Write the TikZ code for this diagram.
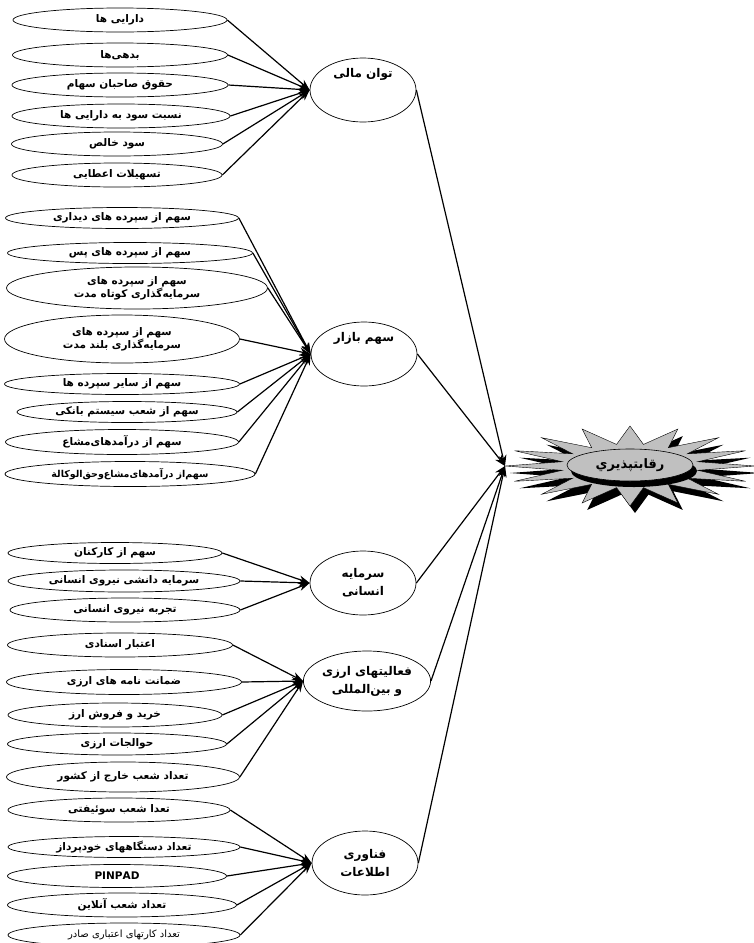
\documentclass[tikz,border=0pt]{standalone}
\usepackage{fontspec}
\newfontfamily\fa[Script=Arabic]{DejaVu Sans}
\TeXXeTstate=1
\usetikzlibrary{shapes.geometric,arrows.meta}
\definecolor{silver}{RGB}{192,192,192}
\newcommand{\fatext}[1]{\beginR #1\endR}
\tikzset{
    item/.style={ellipse, draw, line width=0.7pt, inner sep=0pt, minimum height=24,
        align=center, font=\fa\bfseries\fontsize{10.5}{13}\selectfont},
    factor/.style={item, minimum width=106, minimum height=64,
        font=\fa\bfseries\fontsize{12}{18}\selectfont},
    arr/.style={line width=1.2pt, -{Stealth[length=11pt,width=8pt]}},
}
\begin{document}
\begin{tikzpicture}[x=1pt,y=-1pt]
        \useasboundingbox (0,0) rectangle (753,943);

        % financial power
        \node[item, minimum width=214] (a1) at (120,20) {\fatext{دارایی ها}};
        \node[item, minimum width=215] (a2) at (120,55) {\fatext{بدهی‌ها}};
        \node[item, minimum width=216] (a3) at (120,85) {\fatext{حقوق صاحبان سهام}};
        \node[item, minimum width=218] (a4) at (121,116) {\fatext{نسبت سود به دارایی ها}};
        \node[item, minimum width=211] (a5) at (117,144) {\fatext{سود خالص}};
        \node[item, minimum width=210] (a6) at (117,175) {\fatext{تسهیلات اعطایی}};
        \node[factor] (tm) at (363,90) {\fatext{توان مالی}\\[16pt]};
        \foreach \i in {1,...,6} {\draw[arr] (a\i.east) -- (tm.west);}

        % market share
        \node[item, minimum width=233, minimum height=21] (b1) at (122,218) {\fatext{سهم از سپرده های دیداری}};
        \node[item, minimum width=245, minimum height=21] (b2) at (130,253) {\fatext{سهم از سپرده های پس}};
        \node[item, minimum width=261, minimum height=42] (b3) at (137,288)
            {\fatext{سهم از سپرده های}\\\fatext{سرمایه‌گذاری کوتاه مدت}};
        \node[item, minimum width=235, minimum height=48] (b4) at (122,339)
            {\fatext{سهم از سپرده های}\\\fatext{سرمایه‌گذاری بلند مدت}};
        \node[item, minimum width=235, minimum height=21] (b5) at (122,384) {\fatext{سهم از سایر سپرده ها}};
        \node[item, minimum width=220, minimum height=21] (b6) at (127,412) {\fatext{سهم از شعب سیستم بانکی}};
        \node[item, minimum width=233, minimum height=25] (b7) at (122,442) {\fatext{سهم از درآمدهای‌مشاع}};
        \node[item, minimum width=250, minimum height=25, font=\fa\bfseries\fontsize{9.5}{12}\selectfont] (b8) at (130,474)
            {\fatext{سهم‌از درآمدهای‌مشاع‌وحق‌الوکالة}};
        \node[factor] (sb) at (364,354) {\fatext{سهم بازار}\\[16pt]};
        \foreach \i in {1,...,8} {\draw[arr] (b\i.east) -- (sb.west);}

        % human capital
        \node[item, minimum width=214, minimum height=21] (c1) at (115,553) {\fatext{سهم از کارکنان}};
        \node[item, minimum width=232, minimum height=22] (c2) at (124,581) {\fatext{سرمایه دانشی نیروی انسانی}};
        \node[item, minimum width=230, minimum height=24] (c3) at (125,610) {\fatext{تجربه نیروی انسانی}};
        \node[factor] (si) at (363,583) {\fatext{سرمایه}\\\fatext{انسانی}};
        \foreach \i in {1,2,3} {\draw[arr] (c\i.east) -- (si.west);}

        % foreign exchange
        \node[item, minimum width=225] (d1) at (120,645) {\fatext{اعتبار اسنادی}};
        \node[item, minimum width=235, minimum height=25] (d2) at (124,682) {\fatext{ضمانت نامه های ارزی}};
        \node[item, minimum width=214] (d3) at (115,715) {\fatext{خرید و فروش ارز}};
        \node[item, minimum width=219, minimum height=22] (d4) at (117,744) {\fatext{حوالجات ارزی}};
        \node[item, minimum width=233, minimum height=30] (d5) at (123,777) {\fatext{تعداد شعب خارج از کشور}};
        \node[factor, minimum width=120, minimum height=60] (fa) at (367,681)
            {\fatext{فعالیتهای ارزی}\\\fatext{و بین‌المللی}};
        \foreach \i in {1,...,5} {\draw[arr] (d\i.east) -- (fa.west);}

        % information technology
        \node[item, minimum width=222] (e1) at (119,810) {\fatext{تعدا شعب سوئیفتی}};
        \node[item, minimum width=232, minimum height=21] (e2) at (124,847) {\fatext{تعداد دستگاههای خودپرداز}};
        \node[item, minimum width=219, minimum height=23] (e3) at (117,876) {PINPAD};
        \node[item, minimum width=229] (e4) at (122,905) {\fatext{تعداد شعب آنلاین}};
        \node[item, minimum width=232, font=\fa\fontsize{10}{12}\selectfont] (e5) at (124,935)
            {\fatext{تعداد کارتهای اعتباری صادر}};
        \node[factor] (it) at (365,863) {\fatext{فناوری}\\\fatext{اطلاعات}};
        \foreach \i in {1,...,5} {\draw[arr] (e\i.east) -- (it.west);}

        % competitiveness
        \fill[black] plot[samples at={0,...,31}, variable=\k]
            ({635+(97+28*cos(180*\k))*cos(11.25*\k)}, {473+(31+9*cos(180*\k))*sin(11.25*\k)}) -- cycle;
        \filldraw[fill=silver, line width=0.4pt] plot[samples at={0,...,31}, variable=\k]
            ({630+(97+28*cos(180*\k))*cos(11.25*\k)}, {466+(31+9*cos(180*\k))*sin(11.25*\k)}) -- cycle;
        \fill[black] (634,471) ellipse (63 and 16);
        \node[ellipse, draw, fill=silver, line width=0.6pt, minimum width=126, minimum height=32, inner sep=0pt,
            font=\fa\bfseries\fontsize{13}{15}\selectfont] (rq) at (630,465) {\fatext{رقابتپذيري}};
        \coordinate (tip) at (505,466);

        \draw[arr] (tm.east) -- (tip);
        \draw[arr] (sb.east) -- (tip);
        \draw[arr] (si.east) -- (tip);
        \draw[arr] (fa.east) -- (tip);
        \draw[arr] (it.east) -- (tip);
    \end{tikzpicture}
\end{document}
